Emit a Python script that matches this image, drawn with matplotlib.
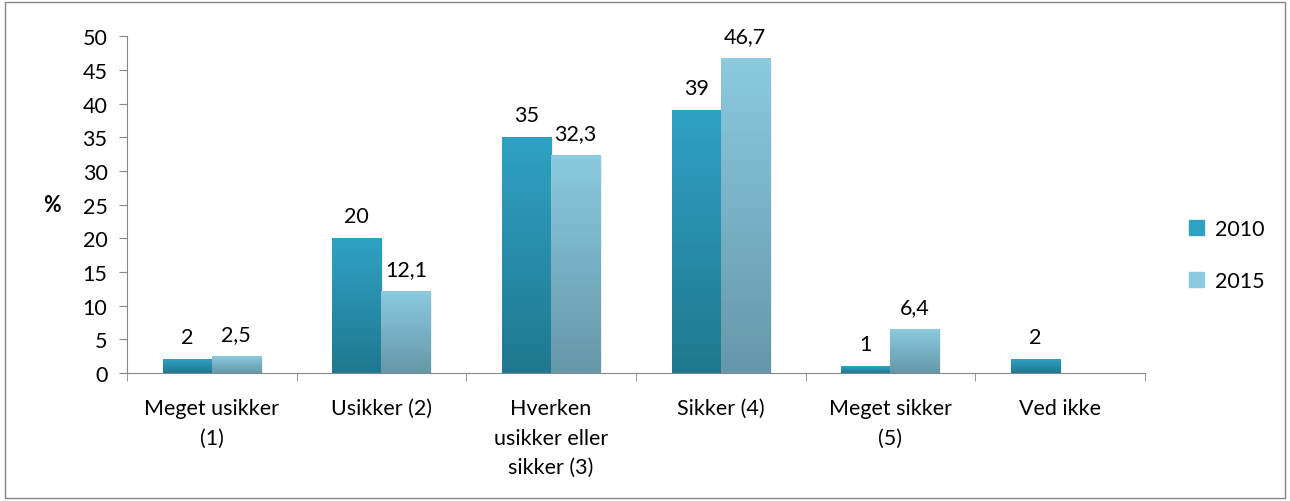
import numpy as np
import matplotlib.pyplot as plt
import matplotlib.patches as mpatches
from matplotlib.colors import LinearSegmentedColormap

plt.rcParams['font.family'] = ['Lato', 'DejaVu Sans']

# data
categories = ['Meget usikker\n(1)', 'Usikker (2)', 'Hverken\nusikker eller\nsikker (3)',
              'Sikker (4)', 'Meget sikker\n(5)', 'Ved ikke']
vals_2010 = [2, 20, 35, 39, 1, 2]
vals_2015 = [2.5, 12.1, 32.3, 46.7, 6.4, np.nan]
series = ['2010', '2015']

# top / bottom colours of the gradient fills
grad_2010 = ('#2fa2c3', '#207890')
grad_2015 = ('#8bcadf', '#6598a9')

FS = 15.5

fig = plt.figure(figsize=(12.9, 5.02), dpi=100)
ax = fig.add_axes([0.0984, 0.255, 0.7891, 0.671])

x = np.arange(len(categories))
w = 0.29

def fmt(v):
    return ('%g' % v).replace('.', ',')

for vals, off, grad, name in [(vals_2010, -w / 2, grad_2010, series[0]),
                              (vals_2015, w / 2, grad_2015, series[1])]:
    cmap = LinearSegmentedColormap.from_list('g', [grad[1], grad[0]])
    bars = ax.bar(x + off, np.nan_to_num(vals), w, color=grad[0], label=name, zorder=2)
    for b, v in zip(bars, vals):
        if np.isnan(v):
            continue
        # soft shadow to the right
        ax.add_patch(mpatches.Rectangle((b.get_x() + 0.01, 0), b.get_width(), v - 0.3,
                                        color='#000000', alpha=0.07, lw=0, zorder=1))
        g = np.linspace(0, 1, 100).reshape(-1, 1)
        ax.imshow(g, cmap=cmap, origin='lower', aspect='auto', zorder=3,
                  extent=[b.get_x(), b.get_x() + b.get_width(), 0, v])
        ax.annotate(fmt(v), (b.get_x() + b.get_width() / 2, v), xytext=(0, 9),
                    textcoords='offset points', ha='center', va='bottom', fontsize=FS)

ax.set_xlim(-0.5, len(categories) - 0.5)
ax.set_ylim(0, 50)
ax.set_yticks(np.arange(0, 51, 5))
ax.set_xticks(x)
ax.set_xticklabels(categories, fontsize=FS, linespacing=1.6)
ax.set_xticks(np.arange(-0.5, len(categories)), minor=True)
ax.tick_params(axis='x', which='major', length=0, pad=18)
ax.tick_params(axis='x', which='minor', length=6, color='#868686')
ax.tick_params(axis='y', length=6, color='#868686', labelsize=FS, pad=8)
for s in ['top', 'right']:
    ax.spines[s].set_visible(False)
for s in ['left', 'bottom']:
    ax.spines[s].set_color('#868686')
ax.set_ylabel('%', rotation=0, fontsize=FS, fontweight='bold', labelpad=22, va='center')

handles = [mpatches.Patch(color=grad_2010[0]), mpatches.Patch(color=grad_2015[0])]
fig.legend(handles, series, loc='center left', bbox_to_anchor=(0.907, 0.49),
           frameon=False, fontsize=FS, handlelength=0.7, handleheight=0.7,
           labelspacing=1.45, handletextpad=0.5)

fig.patches.append(mpatches.Rectangle((0.004, 0.006), 0.992, 0.988, transform=fig.transFigure,
                                      fill=False, edgecolor='#868686', lw=1))
fig.savefig('out.png', dpi=100)
